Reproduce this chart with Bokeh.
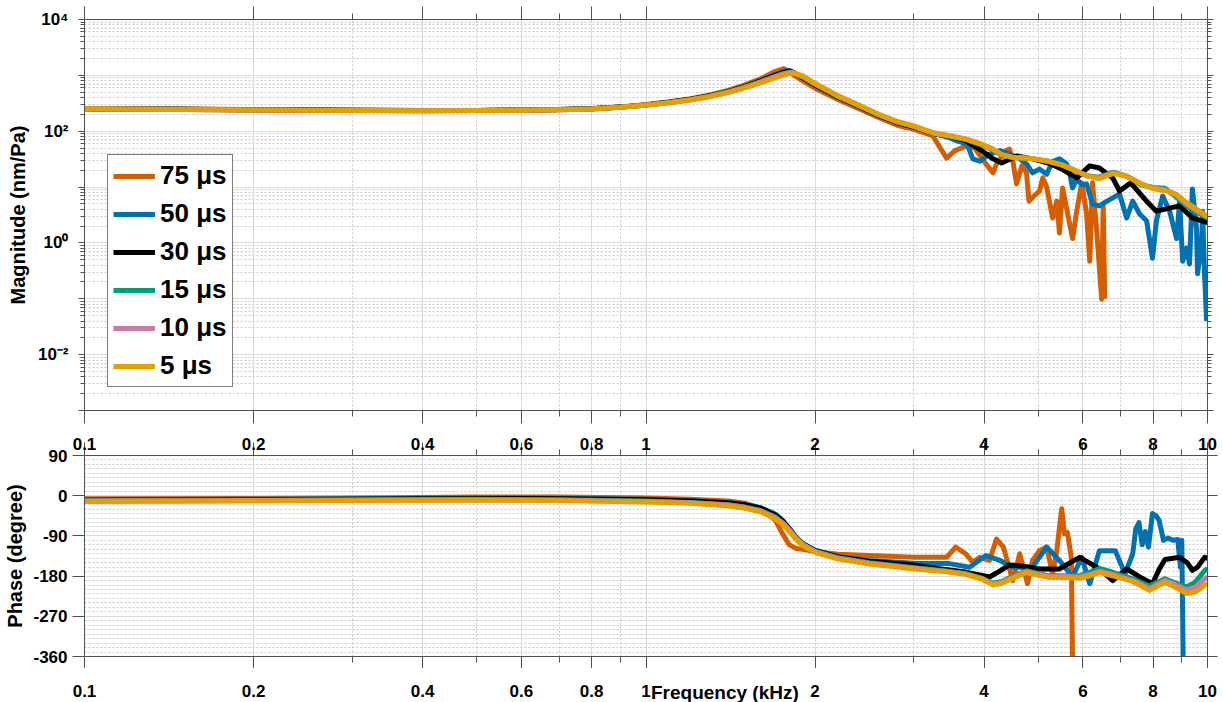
from bokeh.plotting import figure
from bokeh.models import FixedTicker, LogAxis, LinearAxis, Legend, LegendItem, Range1d
from bokeh.layouts import column
from bokeh.embed import file_html
from bokeh.resources import INLINE

# ---------------------------------------------------------------- data
series_labels = ["75 \u03bcs", "50 \u03bcs", "30 \u03bcs", "15 \u03bcs", "10 \u03bcs", "5 \u03bcs"]
series_colors = ["#D55E00", "#0072B2", "#000000", "#009E73", "#CC79A7", "#E69F00"]

# magnitude (nm/Pa), common low-frequency grid (kHz)
freq_lo = [0.1, 0.15, 0.2, 0.3, 0.4, 0.5, 0.6, 0.7, 0.8, 0.9, 1.0, 1.1, 1.2, 1.3, 1.4,
           1.5, 1.6, 1.7, 1.76, 1.8, 1.83, 1.9, 2.0, 2.2, 2.4, 2.6, 2.8, 3.0]
mag_lo_75 = [255, 249, 244, 238, 235, 236, 240, 246, 255, 272, 300, 336, 382, 447, 540,
             675, 870, 1180, 1320, 1180, 1020, 800, 590, 365, 250, 175, 128, 108]
mag_lo_50 = [253, 247, 242, 237, 234, 235, 238, 244, 252, 270, 296, 330, 374, 433, 516,
             636, 805, 1030, 1170, 1220, 1120, 900, 660, 400, 272, 188, 141, 118]
mag_lo_30 = [253, 247, 242, 237, 234, 235, 238, 244, 252, 270, 296, 329, 372, 430, 512,
             630, 795, 1010, 1140, 1200, 1130, 910, 670, 405, 275, 190, 143, 119]
mag_lo_15 = [252, 246, 241, 236, 233, 234, 237, 243, 251, 269, 294, 326, 368, 424, 503,
             615, 770, 965, 1080, 1150, 1120, 940, 690, 415, 281, 194, 146, 121]
mag_lo_10 = [252, 246, 241, 236, 233, 234, 237, 243, 251, 269, 294, 325, 367, 422, 500,
             610, 760, 950, 1060, 1120, 1110, 950, 700, 420, 284, 196, 147, 122]
mag_lo_5 = [252, 246, 241, 236, 233, 234, 237, 242, 250, 268, 292, 322, 362, 415, 490,
            595, 735, 905, 1010, 1075, 1100, 990, 720, 430, 290, 200, 150, 125]

# magnitude above 3 kHz
freq_hi_75 = [3.24, 3.43, 3.55, 3.73, 3.85, 4.03, 4.15, 4.21, 4.38, 4.44, 4.5, 4.57, 4.67,
              4.76, 4.81, 4.88, 5.02, 5.09, 5.17, 5.30, 5.39, 5.45, 5.52, 5.61, 5.75, 5.85,
              5.97, 6.09, 6.17, 6.24, 6.35, 6.42, 6.48, 6.52, 6.56]
mag_hi_75 = [83, 33, 45, 55, 50, 26, 18, 26, 45, 48, 30, 11.4, 24, 18, 5.6, 6.5, 8.5, 14.6,
             10, 2.8, 5.6, 1.5, 9.6, 4.2, 1.2, 3.7, 11.9, 3.4, 0.47, 11.9, 1.6, 0.35, 0.098,
             5, 0.1]
freq_hi_50 = [3.24, 3.45, 3.58, 3.73, 3.82, 3.93, 4.09, 4.27, 4.44, 4.63, 4.76, 4.88, 5.02,
              5.17, 5.30, 5.45, 5.61, 5.68, 5.75, 5.85, 5.97, 6.09, 6.24, 6.42, 6.6, 6.78,
              6.97, 7.18, 7.36, 7.57, 7.79, 7.98, 8.11, 8.32, 8.56, 8.81, 8.92, 9.03, 9.18,
              9.29, 9.40, 9.56, 9.60, 9.76, 9.80, 9.88, 9.96]
mag_hi_50 = [93, 78, 67, 59, 32, 29, 39, 45, 39, 32, 26, 18, 21, 17, 29, 32, 26, 18, 9.6, 14,
             11, 11.4, 5.0, 4.6, 5.5, 6.4, 7.5, 2.8, 5.6, 3.3, 2.5, 0.53, 2.5, 6.9, 3.7, 1.2,
             5.6, 0.47, 0.81, 0.42, 9.2, 1.8, 0.28, 0.95, 3.7, 0.28, 0.04]
freq_hi_30 = [3.24, 3.5, 3.71, 3.96, 4.15, 4.3, 4.57, 4.88, 5.2, 5.45, 5.85, 6.17, 6.42,
              6.78, 6.97, 7.3, 7.79, 8.11, 8.56, 8.92, 9.4, 10.0]
mag_hi_30 = [92, 80, 68, 45, 32, 27, 36, 32, 27, 22, 14.6, 24, 22, 14.6, 8.5, 11.9, 5.6,
             3.7, 4.2, 4.6, 2.8, 2.3]
freq_hi_smooth = [3.24, 3.5, 3.71, 3.96, 4.15, 4.3, 4.5, 4.7, 4.9, 5.2, 5.5, 5.8, 6.1, 6.4,
                  6.8, 7.2, 7.6, 8.0, 8.4, 8.8, 9.2, 9.6, 10.0]
mag_hi_15 = [92, 80, 71, 57, 46, 37, 34, 33, 32, 29, 25, 20, 16, 15, 18.5, 15.5, 11, 9.8,
             9.5, 6.6, 4.5, 3.5, 2.8]
mag_hi_10 = [93, 81, 72, 58, 47, 38, 34, 33, 32, 29, 25, 20, 16, 14.5, 18, 15.5, 11.5, 9.6,
             9.0, 7.2, 4.9, 3.7, 2.9]
mag_hi_5 = [94, 82, 73, 59, 48, 38, 34, 33, 32, 29, 25, 20, 16, 14, 17.5, 15.5, 11.5, 9.4,
            8.6, 7.4, 5.2, 3.9, 3.0]

# phase (degree), common low-frequency grid (kHz)
freq_ph_lo = [0.1, 0.2, 0.3, 0.5, 0.7, 1.0, 1.2, 1.4, 1.5, 1.6, 1.7, 1.75, 1.8, 1.85, 1.9,
              2.0, 2.2, 2.5, 3.0]
ph_lo_75 = [-7, -6, -5, -3, -3, -5, -8, -12, -17, -28, -55, -85, -110, -118, -120, -125,
            -131, -134, -138]
ph_lo_50 = [-9, -8, -7, -5, -6, -8, -11, -15, -19, -27, -41, -55, -73, -93, -107, -122,
            -136, -145, -151]
ph_lo_30 = [-10, -9, -8, -6, -7, -9, -12, -16, -20, -28, -43, -56, -74, -93, -107, -123,
            -137, -147, -155]
ph_lo_15 = [-11, -10, -9, -8, -9, -12, -15, -20, -25, -33, -48, -60, -76, -94, -108, -124,
            -139, -150, -161]
ph_lo_10 = [-12, -11, -10, -9, -10, -13, -16, -21, -26, -34, -49, -61, -77, -95, -109, -125,
            -140, -151, -162]
ph_lo_5 = [-13, -12, -11, -10, -11, -14, -17, -23, -28, -36, -52, -64, -80, -98, -111, -127,
           -142, -153, -164]

# phase above 3 kHz
freq_ph_hi_75 = [3.43, 3.56, 3.71, 3.82, 3.93, 4.09, 4.21, 4.33, 4.5, 4.63, 4.78, 4.88, 5.02,
                 5.17, 5.3, 5.39, 5.5, 5.56, 5.63, 5.72, 5.75]
ph_hi_75 = [-138, -115, -130, -149, -138, -145, -97, -115, -190, -130, -197, -145, -123,
            -115, -175, -123, -29, -85, -82, -138, -370]
freq_ph_hi_50 = [3.47, 3.77, 4.03, 4.27, 4.5, 4.88, 5.17, 5.45, 5.75, 5.97, 6.17, 6.42,
                 6.85, 7.13, 7.36, 7.45, 7.55, 7.65, 7.75, 7.85, 7.98, 8.1, 8.2, 8.35, 8.5,
                 8.7, 8.85, 8.95, 9.0, 9.05]
ph_hi_50 = [-152, -160, -134, -145, -160, -160, -115, -145, -182, -138, -197, -123, -123,
            -175, -130, -75, -60, -110, -80, -115, -40, -45, -55, -100, -95, -100, -98,
            -160, -100, -370]
freq_ph_hi_30 = [3.3, 3.71, 4.09, 4.25, 4.44, 4.7, 5.02, 5.45, 5.7, 5.92, 6.15, 6.42, 6.78,
                 6.95, 7.18, 7.57, 7.98, 8.2, 8.4, 8.92, 9.2, 9.4, 9.6, 9.88, 10.0]
ph_hi_30 = [-163, -171, -182, -170, -155, -158, -164, -164, -150, -138, -150, -164, -190,
            -178, -164, -182, -197, -165, -143, -138, -150, -167, -160, -138, -140]
freq_ph_hi_smooth = [3.4, 3.7, 3.95, 4.15, 4.3, 4.44, 4.76, 5.0, 5.2, 5.6, 5.92, 6.15, 6.42,
                     6.8, 7.36, 7.88, 8.4, 8.8, 9.18, 9.5, 9.88, 10.0]
ph_hi_15 = [-168, -174, -184, -196, -192, -184, -168, -174, -179, -179, -179, -172, -163,
            -172, -186, -202, -186, -196, -204, -194, -168, -163]
ph_hi_10 = [-169, -175, -185, -198, -194, -186, -170, -176, -181, -181, -182, -177, -169,
            -177, -190, -208, -190, -200, -211, -205, -186, -182]
ph_hi_5 = [-170, -176, -186, -200, -196, -188, -172, -178, -183, -183, -185, -180, -172,
           -180, -192, -212, -194, -206, -219, -216, -201, -197]

# ticks
x_ticks = [0.1, 0.2, 0.4, 0.6, 0.8, 1, 2, 4, 6, 8, 10]
x_tick_labels = ["0.1", "0.2", "0.4", "0.6", "0.8", "1", "2", "4", "6", "8", "10"]
x_minor_ticks = [0.3, 0.5, 0.7, 0.9, 3, 5, 7, 9]
x_title = "Frequency (kHz)"
x_title_center = 1.382          # kHz position under which the x title is centred
mag_decades = [-3, -2, -1, 0, 1, 2, 3, 4]
mag_tick_labels = {4: "10\u2074", 2: "10\u00b2", 0: "10\u2070", -2: "10\u207b\u00b2"}
phase_ticks = [-360, -270, -180, -90, 0, 90]
phase_tick_labels = ["-360", "-270", "-180", "-90", "0", "90"]

# ---------------------------------------------------------------- assemble series
mag_x = [freq_lo + freq_hi_75, freq_lo + freq_hi_50, freq_lo + freq_hi_30,
         freq_lo + freq_hi_smooth, freq_lo + freq_hi_smooth, freq_lo + freq_hi_smooth]
mag_y = [mag_lo_75 + mag_hi_75, mag_lo_50 + mag_hi_50, mag_lo_30 + mag_hi_30,
         mag_lo_15 + mag_hi_15, mag_lo_10 + mag_hi_10, mag_lo_5 + mag_hi_5]
ph_x = [freq_ph_lo + freq_ph_hi_75, freq_ph_lo + freq_ph_hi_50, freq_ph_lo + freq_ph_hi_30,
        freq_ph_lo + freq_ph_hi_smooth, freq_ph_lo + freq_ph_hi_smooth,
        freq_ph_lo + freq_ph_hi_smooth]
ph_y = [ph_lo_75 + ph_hi_75, ph_lo_50 + ph_hi_50, ph_lo_30 + ph_hi_30,
        ph_lo_15 + ph_hi_15, ph_lo_10 + ph_hi_10, ph_lo_5 + ph_hi_5]

# ---------------------------------------------------------------- styling helpers
FONT = "Liberation Sans"
AXIS_COLOR = "#505050"
GRID_COLOR = "#dcdcdc"
MINOR_GRID_COLOR = "#c8c8c8"
LINE_W = 5
W = 1223
LEFT, RIGHT = 84, 16          # frame margins shared by all panels

x_ticker = FixedTicker(ticks=x_ticks, minor_ticks=x_minor_ticks)
x_overrides = {t: s for t, s in zip(x_ticks, x_tick_labels)}
x_blank = {t: "" for t in x_ticks}


def style_axis(ax, major_out, minor_out, standoff=0, size="17px"):
    ax.axis_line_color = AXIS_COLOR
    ax.major_tick_line_color = AXIS_COLOR if major_out > 0 else None
    ax.minor_tick_line_color = AXIS_COLOR if minor_out > 0 else None
    ax.major_tick_in = 0
    ax.minor_tick_in = 0
    ax.major_tick_out = major_out
    ax.minor_tick_out = minor_out
    ax.major_label_text_font = FONT
    ax.major_label_text_font_style = "bold"
    ax.major_label_text_color = "black"
    ax.major_label_text_font_size = size
    ax.major_label_standoff = standoff
    ax.axis_label_text_font = FONT
    ax.axis_label_text_font_style = "bold"
    ax.axis_label_text_font_size = "20px"
    ax.axis_label_text_color = "black"


def style_grid(p):
    for g in (p.xgrid[0], p.ygrid[0]):
        g.grid_line_color = GRID_COLOR
        g.grid_line_width = 1
        g.minor_grid_line_color = MINOR_GRID_COLOR
        g.minor_grid_line_dash = "2 2"
        g.minor_grid_line_width = 1


# ---------------------------------------------------------------- magnitude panel
p1 = figure(width=W, height=431, x_axis_type="log", y_axis_type="log",
            x_range=Range1d(0.1, 10), y_range=Range1d(1e-3, 1e4),
            output_backend="svg", toolbar_location=None,
            min_border_left=LEFT, min_border_right=RIGHT, min_border_top=19,
            min_border_bottom=21, outline_line_color=None)
p1.add_layout(LogAxis(), "above")
p1.add_layout(LogAxis(), "right")

mag_ticker = FixedTicker(ticks=[10.0 ** k for k in mag_decades],
                         minor_ticks=[m * 10.0 ** k for k in mag_decades[:-1] for m in range(2, 10)])
for ax in p1.xaxis:
    ax.ticker = x_ticker
    ax.major_label_overrides = x_blank
    style_axis(ax, 13, 6)
for ax in p1.yaxis:
    ax.ticker = mag_ticker
    ax.major_label_overrides = {10.0 ** k: "" for k in mag_decades}
    style_axis(ax, 6, 4)
p1.left[0].major_label_overrides = {10.0 ** k: mag_tick_labels.get(k, "") for k in mag_decades}
p1.left[0].major_label_standoff = 10
p1.left[0].axis_label = "Magnitude (nm/Pa)"
p1.left[0].axis_label_standoff = 6
p1.xgrid[0].ticker = x_ticker
p1.ygrid[0].ticker = mag_ticker
style_grid(p1)

mag_renderers = []
for xs, ys, c in zip(mag_x, mag_y, series_colors):
    r = p1.line(xs, ys, line_color=c, line_width=LINE_W, line_join="round")
    mag_renderers.append(r)

legend = Legend(items=[LegendItem(label=lab, renderers=[r])
                       for lab, r in zip(series_labels, mag_renderers)],
                location=(23, 23), margin=0, padding=5, spacing=7,
                glyph_width=42, glyph_height=30, label_height=30, label_standoff=5,
                border_line_color="black", border_line_width=1,
                background_fill_color="white", background_fill_alpha=1,
                label_text_font=FONT, label_text_font_style="bold",
                label_text_font_size="26px", label_text_color="black")
p1.add_layout(legend)

# ---------------------------------------------------------------- phase panel
p2 = figure(width=W, height=237, x_axis_type="log",
            x_range=p1.x_range, y_range=Range1d(-360, 90),
            output_backend="svg", toolbar_location=None,
            min_border_left=LEFT, min_border_right=RIGHT, min_border_top=24,
            min_border_bottom=12, outline_line_color=None)
p2.add_layout(LogAxis(), "above")
p2.add_layout(LinearAxis(), "right")

phase_ticker = FixedTicker(ticks=phase_ticks, minor_ticks=list(range(-350, 90, 10)))
for ax in p2.xaxis:
    ax.ticker = x_ticker
style_axis(p2.above[0], 13, 6, standoff=-7)
p2.above[0].major_label_overrides = x_overrides
style_axis(p2.below[0], 12, 6, standoff=0)
p2.below[0].major_label_overrides = x_blank
for ax in p2.yaxis:
    ax.ticker = phase_ticker
style_axis(p2.left[0], 12, 0, standoff=5)
p2.left[0].major_label_overrides = {t: s for t, s in zip(phase_ticks, phase_tick_labels)}
style_axis(p2.right[0], 10, 0)
p2.right[0].major_label_overrides = {t: "" for t in phase_ticks}
p2.left[0].axis_label = "Phase (degree)"
p2.left[0].axis_label_standoff = 4
p2.xgrid[0].ticker = x_ticker
p2.ygrid[0].ticker = phase_ticker
style_grid(p2)

for xs, ys, c in zip(ph_x, ph_y, series_colors):
    p2.line(xs, ys, line_color=c, line_width=LINE_W, line_join="round")

# ---------------------------------------------------------------- bottom tick-label strip
# a one-pixel frame at the very bottom; its top axes carry the frequency labels and title
p3 = figure(width=W, height=34, x_axis_type="log", x_range=p1.x_range,
            y_range=Range1d(0, 1), output_backend="svg", toolbar_location=None,
            min_border_left=LEFT, min_border_right=RIGHT, min_border_top=33,
            min_border_bottom=0, x_axis_location=None, y_axis_location=None,
            outline_line_color=None)
p3.xgrid.visible = False
p3.ygrid.visible = False
num_axis = LogAxis(ticker=FixedTicker(ticks=x_ticks, minor_ticks=[]),
                   major_label_overrides=x_overrides)
style_axis(num_axis, 0, 0, standoff=5)
num_axis.axis_line_color = None
p3.add_layout(num_axis, "above")
title_axis = LogAxis(ticker=FixedTicker(ticks=[x_title_center], minor_ticks=[]),
                     major_label_overrides={x_title_center: x_title})
style_axis(title_axis, 0, 0, standoff=-21, size="19px")
title_axis.axis_line_color = None
p3.add_layout(title_axis, "above")

layout = column(p1, p2, p3, spacing=0)
open("out.html", "w").write(file_html(layout, INLINE))
